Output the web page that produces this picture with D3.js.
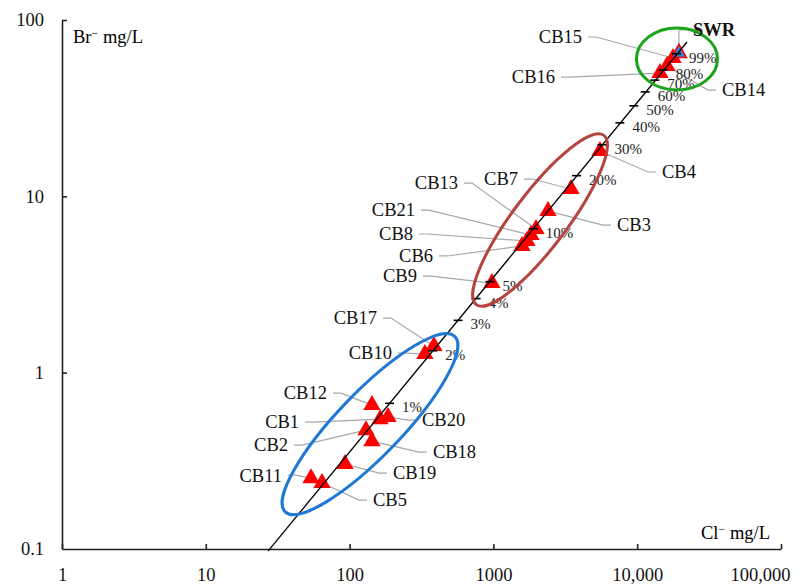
<!DOCTYPE html>
<html>
  <head>
    <meta charset="utf-8" />
    <title>Br vs Cl</title>
    <script src="https://cdnjs.cloudflare.com/ajax/libs/d3/7.8.5/d3.min.js"></script>
    <style>
      body { margin: 0; background: #fff; }
      svg text { font-family: "Liberation Serif", "Times New Roman", Times, "DejaVu Serif", serif !important; }
    </style>
  </head>
  <body>
    <div id="chart"></div>
    <script>
      // axis ticks
      const clTicks = [1, 10, 100, 1000, 10000, 100000];
      const clTickLabels = ["1", "10", "100", "1000", "10,000", "100,000"];
      const brTicks = [0.1, 1, 10, 100];
      const brTickLabels = ["0.1", "1", "10", "100"];

      // samples (Cl- mg/L, Br- mg/L)
      const sampleNames = ["CB15", "CB14", "CB16", "CB4", "CB7", "CB3", "CB13", "CB21", "CB8", "CB6",
        "CB9", "CB17", "CB10", "CB12", "CB20", "CB1", "CB2", "CB18", "CB19", "CB11", "CB5"];
      const sampleCl = [17740, 16110, 14410, 5510, 3466, 2398, 1978, 1826, 1713, 1581,
        977, 386, 334, 143, 185, 163, 130, 143, 92.9, 53.9, 64.3];
      const sampleBr = [60.9, 54.8, 50.0, 18.07, 11.0, 8.25, 6.52, 6.03, 5.58, 5.23,
        3.22, 1.415, 1.275, 0.655, 0.560, 0.545, 0.472, 0.409, 0.303, 0.252, 0.2366];

      // seawater reference
      const swrCl = 19500;
      const swrBr = 65;

      // freshwater - seawater mixing line end points
      const mixCl = [27.1, 22200];
      const mixBr = [0.0973, 75];

      // seawater fraction marks along the line
      const mixPct = ["1%", "2%", "3%", "4%", "5%", "10%", "20%", "30%", "40%", "50%", "60%", "70%", "80%", "99%"];
      const mixPctCl = [191, 382, 573, 764, 955, 1910, 3820, 5730, 7640, 9550, 11460, 13370, 15280, 18900];
      const mixPctBr = [0.67, 1.33, 1.98, 2.63, 3.28, 6.55, 13.1, 19.6, 26.1, 32.6, 39.1, 45.6, 52.1, 64.4];

      // label placement, pixel offset of label from its point
      const labelLayout = {
        CB15: [-91, -21, "end"], CB14: [55, 24, "start"], CB16: [-105, 4, "end"],
        CB4: [62, 21, "start"], CB7: [-53, -10, "end"], CB3: [69, 14, "start"],
        CB13: [-78, -46, "end"], CB21: [-116, -25, "end"], CB8: [-114, -7, "end"],
        CB6: [-89, 10, "end"], CB9: [-75, -7, "end"], CB17: [-57, -28, "end"],
        CB10: [-33, -1, "end"], CB12: [-45, -12, "end"], CB20: [34, 3, "start"],
        CB1: [-81, 3, "end"], CB2: [-78, 15, "end"], CB18: [61, 11, "start"],
        CB19: [48, 9, "start"], CB11: [-29, -3, "end"], CB5: [51, 17, "start"],
        SWR: [14, -23, "start"],
      };

      // group ellipses: centre (Cl, Br), radii px, rotation deg, colour
      const groups = [
        { cl: 18900, br: 60.1, rx: 40.5, ry: 31, rot: 0, color: "#1ba31b" },
        { cl: 2110, br: 7.34, rx: 106, ry: 27, rot: -53, color: "#b5433e" },
        { cl: 138.6, br: 0.511, rx: 122, ry: 32, rot: -46, color: "#1f78d6" },
      ];

      const width = 797, height = 584;
      const svg = d3.select("#chart").append("svg")
        .attr("width", width).attr("height", height)
        .attr("font-family", '"Liberation Serif", "Times New Roman", serif');

      const x = d3.scaleLog().domain([1, 100000]).range([62, 781]);
      const y = d3.scaleLog().domain([0.1, 100]).range([549, 20]);

      const fs = 18.5;

      // axes
      const xAxis = svg.append("g").attr("transform", "translate(0,549)")
        .call(d3.axisBottom(x).tickValues(clTicks).tickSizeInner(-5).tickSizeOuter(0)
          .tickPadding(19).tickFormat((d, i) => clTickLabels[i]));
      const yAxis = svg.append("g").attr("transform", "translate(62,0)")
        .call(d3.axisLeft(y).tickValues(brTicks).tickSizeInner(-5).tickSizeOuter(0)
          .tickPadding(18).tickFormat((d, i) => brTickLabels[i]));
      [xAxis, yAxis].forEach((g) => {
        g.attr("font-family", null).attr("font-size", null);
        g.selectAll("path, line").attr("stroke", "#222").attr("stroke-width", 1.6);
        g.selectAll("text").style("font-size", fs + "px").attr("fill", "#111");
      });
      yAxis.selectAll(".tick").filter((d) => d === 0.1).select("line").remove();
      // last label kept inside the frame
      xAxis.selectAll(".tick").filter((d) => d === 100000).select("text")
        .attr("text-anchor", "end").attr("x", 9);

      // axis titles
      const brTitle = svg.append("text").attr("x", 73).attr("y", 43)
        .style("font-size", fs + "px");
      brTitle.append("tspan").text("Br");
      brTitle.append("tspan").attr("dy", -6).style("font-size", "12px").text("\u2212");
      brTitle.append("tspan").attr("dy", 6).text(" mg/L");

      const clTitle = svg.append("text").attr("x", 770).attr("y", 539)
        .attr("text-anchor", "end").style("font-size", fs + "px");
      clTitle.append("tspan").text("Cl");
      clTitle.append("tspan").attr("dy", -6).style("font-size", "12px").text("\u2212");
      clTitle.append("tspan").attr("dy", 6).text(" mg/L");

      const samples = sampleNames.map((n, i) => ({ name: n, cl: sampleCl[i], br: sampleBr[i] }));
      const all = samples.concat([{ name: "SWR", cl: swrCl, br: swrBr }]);

      // leader lines
      const leader = (d) => {
        const [dx, dy, anchor] = labelLayout[d.name];
        const px = x(d.cl), py = y(d.br);
        const tx = px + dx, ty = py + dy;
        const s = anchor === "end" ? 1 : -1;
        return [[tx + s * 6, ty], [tx + s * 14, ty], [px, py]];
      };
      svg.append("g").selectAll("path").data(all).join("path")
        .attr("d", (d) => d3.line()(leader(d)))
        .attr("fill", "none").attr("stroke", "#a8a8a8").attr("stroke-width", 1.2);

      // triangles
      const tri = d3.symbol().type(d3.symbolTriangle).size(130);
      svg.append("g").selectAll("path").data(samples).join("path")
        .attr("transform", (d) => `translate(${x(d.cl)},${y(d.br)})`)
        .attr("d", tri).attr("fill", "#ff0000");
      svg.append("path")
        .attr("transform", `translate(${x(swrCl)},${y(swrBr)})`)
        .attr("d", d3.symbol().type(d3.symbolTriangle).size(100))
        .attr("fill", "#3b7dc4").attr("stroke", "#ff0000").attr("stroke-width", 1.5);

      // mixing line
      svg.append("line")
        .attr("x1", x(mixCl[0])).attr("y1", y(mixBr[0]))
        .attr("x2", x(mixCl[1])).attr("y2", y(mixBr[1]))
        .attr("stroke", "#000").attr("stroke-width", 1.3);

      const marks = mixPct.map((p, i) => ({ p, cl: mixPctCl[i], br: mixPctBr[i] }));
      svg.append("g").selectAll("line").data(marks).join("line")
        .attr("x1", (d) => x(d.cl) - 5).attr("x2", (d) => x(d.cl) + 4)
        .attr("y1", (d) => y(d.br)).attr("y2", (d) => y(d.br))
        .attr("stroke", "#000").attr("stroke-width", 1.6);
      svg.append("g").selectAll("text").data(marks).join("text")
        .attr("x", (d) => x(d.cl) + 12).attr("y", (d) => y(d.br) + 9)
        .style("font-size", "15px").attr("fill", "#222")
        .text((d) => d.p);

      // group ellipses
      svg.append("g").selectAll("ellipse").data(groups).join("ellipse")
        .attr("transform", (d) => `translate(${x(d.cl)},${y(d.br)}) rotate(${d.rot})`)
        .attr("rx", (d) => d.rx).attr("ry", (d) => d.ry)
        .attr("fill", "none").attr("stroke", (d) => d.color).attr("stroke-width", 3);

      // sample labels
      svg.append("g").selectAll("text").data(all).join("text")
        .attr("x", (d) => x(d.cl) + labelLayout[d.name][0])
        .attr("y", (d) => y(d.br) + labelLayout[d.name][1])
        .attr("dy", "0.34em")
        .attr("text-anchor", (d) => labelLayout[d.name][2])
        .style("font-size", fs + "px")
        .style("font-weight", (d) => (d.name === "SWR" ? "bold" : "normal"))
        .attr("fill", "#111")
        .text((d) => d.name);
    </script>
  </body>
</html>
